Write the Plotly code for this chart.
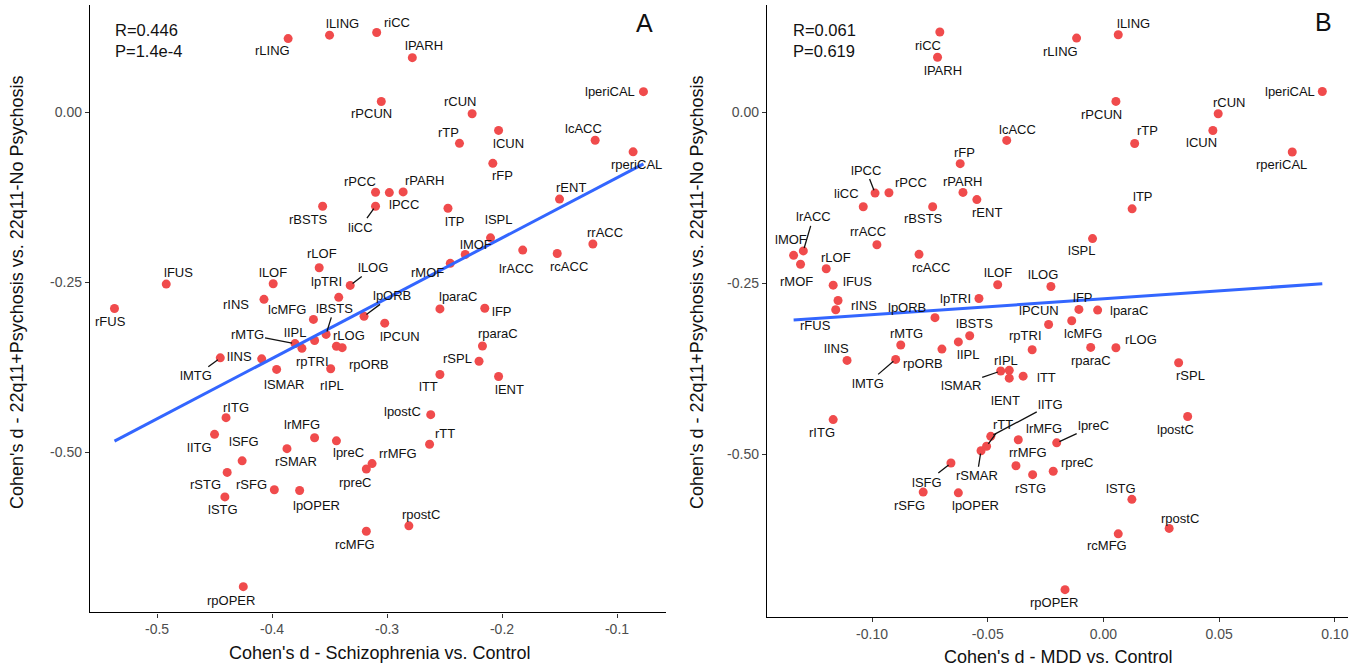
import numpy as np
import plotly.graph_objects as go

# ---------------- data ----------------
regions = ["rLING","lLING","riCC","lPARH","rPCUN","rCUN","rTP","lCUN","rFP","lperiCAL",
           "lcACC","rperiCAL","rENT","rPCC","lPCC","rPARH","rBSTS","liCC","lTP","lSPL",
           "lMOF","rMOF","lrACC","rcACC","rrACC","lFUS","rFUS","lLOF","rLOF","lLOG",
           "lpTRI","rINS","lcMFG","lBSTS","lpORB","rMTG","lIPL","rpTRI","rLOG","rpORB",
           "lPCUN","lparaC","lFP","rparaC","rSPL","lTT","lENT","lINS","lMTG","lSMAR",
           "rIPL","rITG","lITG","lSFG","rSTG","lSTG","rSFG","lpOPER","rSMAR","lrMFG",
           "lpreC","rrMFG","rpreC","rcMFG","rpOPER","lpostC","rTT","rpostC"]

x_scz = [-0.386,-0.350,-0.309,-0.278,-0.305,-0.226,-0.237,-0.203,-0.208,-0.077,
         -0.119,-0.086,-0.150,-0.310,-0.298,-0.286,-0.356,-0.310,-0.247,-0.210,
         -0.232,-0.245,-0.182,-0.152,-0.121,-0.492,-0.537,-0.399,-0.359,-0.332,
         -0.342,-0.407,-0.364,-0.353,-0.320,-0.380,-0.363,-0.374,-0.344,-0.339,
         -0.302,-0.254,-0.215,-0.217,-0.220,-0.254,-0.203,-0.409,-0.445,-0.396,
         -0.349,-0.440,-0.450,-0.426,-0.439,-0.441,-0.398,-0.376,-0.387,-0.363,
         -0.344,-0.313,-0.318,-0.318,-0.425,-0.262,-0.263,-0.281]

x_mdd = [-0.0116,0.0064,-0.0707,-0.0717,0.0054,0.0496,0.0135,0.0473,-0.0619,0.0946,
         -0.0418,0.0816,-0.0547,-0.0927,-0.0987,-0.0607,-0.0738,-0.1038,0.0124,-0.0047,
         -0.1339,-0.1309,-0.1297,-0.0797,-0.0979,-0.1168,-0.1157,-0.0457,-0.1198,-0.0227,
         -0.0538,-0.1147,-0.0137,-0.0578,-0.0728,-0.0876,-0.0627,-0.0308,0.0054,-0.0698,
         -0.0237,-0.0025,-0.0106,-0.0055,0.0325,-0.0347,-0.0407,-0.1108,-0.0898,-0.0444,
         -0.0407,-0.1168,-0.0487,-0.0659,-0.0306,0.0123,-0.0779,-0.0627,-0.0529,-0.0368,
         -0.0202,-0.0378,-0.0217,0.0064,-0.0166,0.0364,-0.0505,0.0284]

y_psy = [0.108,0.113,0.117,0.080,0.0155,-0.0025,-0.046,-0.027,-0.0755,0.030,
         -0.0415,-0.0585,-0.128,-0.118,-0.1185,-0.1175,-0.1385,-0.1385,-0.1415,-0.185,
         -0.2095,-0.2225,-0.203,-0.208,-0.194,-0.253,-0.289,-0.2525,-0.229,-0.255,
         -0.2725,-0.2755,-0.305,-0.327,-0.3005,-0.3405,-0.336,-0.3475,-0.3445,-0.3465,
         -0.3105,-0.2895,-0.2885,-0.344,-0.3665,-0.386,-0.389,-0.363,-0.3615,-0.3785,
         -0.3775,-0.4495,-0.474,-0.513,-0.530,-0.566,-0.5555,-0.5565,-0.495,-0.479,
         -0.4835,-0.517,-0.525,-0.6165,-0.698,-0.445,-0.4885,-0.6085]

stats_A = ["R=0.446", "P=1.4e-4"]
stats_B = ["R=0.061", "P=0.619"]

xticks_A = [-0.5, -0.4, -0.3, -0.2, -0.1]
xtick_text_A = ["-0.5", "-0.4", "-0.3", "-0.2", "-0.1"]
xticks_B = [-0.10, -0.05, 0.00, 0.05, 0.10]
xtick_text_B = ["-0.10", "-0.05", "0.00", "0.05", "0.10"]
yticks = [0.00, -0.25, -0.50]
ytick_text = ["0.00", "-0.25", "-0.50"]

# ---------------- label layout (pixel offsets, repel-like) ----------------
offA = {"rLING":(-16,12),"lLING":(13,-12),"riCC":(20,-10),"lPARH":(12,-12),"rPCUN":(-10,12),
        "rCUN":(-12,-12),"rTP":(-11,-11),"lCUN":(10,13),"rFP":(10,12),"lperiCAL":(-33,0),
        "lcACC":(-12,-12),"rperiCAL":(3,13),"rENT":(11,-12),"rPCC":(-16,-11),"lPCC":(15,12),
        "rPARH":(21,-11),"rBSTS":(-14,13),"liCC":(-15,21),"lTP":(7,13),"lSPL":(8,-18),
        "lMOF":(11,-10),"rMOF":(-23,9),"lrACC":(-6,18),"rcACC":(12,13),"rrACC":(12,-11),
        "lFUS":(12,-12),"rFUS":(-4,13),"lLOF":(0,-11),"rLOF":(3,-14),"lLOG":(23,-18),
        "lpTRI":(-12,-16),"rINS":(-28,5),"lcMFG":(-26,-10),"lBSTS":(8,-26),"lpORB":(28,-21),
        "rMTG":(-48,-9),"lIPL":(-20,-8),"rpTRI":(11,13),"rLOG":(13,-11),"rpORB":(27,17),
        "lPCUN":(15,13),"lparaC":(18,-12),"lFP":(17,3),"rparaC":(16,-12),"rSPL":(-22,-3),
        "lTT":(-11,12),"lENT":(11,13),"lINS":(-22,-2),"lMTG":(-24,18),"lSMAR":(7,15),
        "rIPL":(1,17),"rITG":(10,-10),"lITG":(-15,13),"lSFG":(2,-19),"rSTG":(-22,12),
        "lSTG":(-2,13),"rSFG":(-23,-5),"lpOPER":(17,15),"rSMAR":(9,13),"lrMFG":(-13,-13),
        "lpreC":(12,12),"rrMFG":(26,-10),"rpreC":(-11,13),"rcMFG":(-11,13),"rpOPER":(-12,14),
        "lpostC":(-28,-3),"rTT":(15,-11),"rpostC":(12,-11)}
leadA = {"liCC","lLOG","lBSTS","lpORB","rMTG","lMTG"}

offB = {"rLING":(-16,13),"lLING":(15,-11),"riCC":(-12,14),"lPARH":(5,13),"rPCUN":(-14,13),
        "rCUN":(11,-11),"rTP":(13,-13),"lCUN":(-11,12),"rFP":(4,-11),"lperiCAL":(-32,0),
        "lcACC":(11,-11),"rperiCAL":(-11,12),"rENT":(10,13),"rPCC":(22,-10),"lPCC":(-9,-23),
        "rPARH":(0,-11),"rBSTS":(-9,12),"liCC":(-17,-13),"lTP":(11,-12),"lSPL":(-11,12),
        "lMOF":(-3,-16),"rMOF":(-4,17),"lrACC":(10,-34),"rcACC":(12,13),"rrACC":(-9,-13),
        "lFUS":(24,-4),"rFUS":(-20,16),"lLOF":(0,-12),"rLOF":(10,-11),"lLOG":(-8,-12),
        "lpTRI":(-23,0),"rINS":(26,5),"lcMFG":(11,13),"lBSTS":(5,-12),"lpORB":(-28,-10),
        "rMTG":(6,-12),"lIPL":(10,13),"rpTRI":(-7,-14),"rLOG":(25,-8),"rpORB":(-19,14),
        "lPCUN":(-10,-14),"lparaC":(31,0),"lFP":(4,-12),"rparaC":(0,13),"rSPL":(12,13),
        "lTT":(23,1),"lENT":(-4,22),"lINS":(-11,-12),"lMTG":(-28,24),"lSMAR":(-40,14),
        "rIPL":(-3,-10),"rITG":(-11,13),"lITG":(60,-32),"lSFG":(-24,19),"rSTG":(-2,14),
        "lSTG":(-11,-11),"rSFG":(-14,13),"lpOPER":(17,13),"rSMAR":(-4,25),"lrMFG":(26,-11),
        "lpreC":(37,-17),"rrMFG":(12,-13),"rpreC":(24,-9),"rcMFG":(-11,12),"rpOPER":(-11,13),
        "lpostC":(-12,13),"rTT":(16,-22),"rpostC":(11,-10)}
leadB = {"lPCC","lrACC","lMTG","lSMAR","lITG","lSFG","rSMAR","lpreC","rTT"}

FONT = "Liberation Sans, Arial, sans-serif"
DOT = "#F04B4C"
LINE = "#3366FF"

# plot area in pixels: left 90, right 1348, top 5, bottom 617
L, R, T, B = 90, 1348, 5, 617
W, H = R - L, B - T
def px_x(px): return (px - L) / W
def px_y(py): return (B - py) / H

fig = go.Figure()

def add_panel(xs, xa, ya):
    fig.add_trace(go.Scatter(x=xs, y=y_psy, mode="markers", xaxis=xa, yaxis=ya,
                             marker=dict(color=DOT, size=9, line=dict(width=0)),
                             hoverinfo="text", text=regions, showlegend=False))
    k, b = np.polyfit(xs, y_psy, 1)
    xl = np.array([min(xs), max(xs)])
    fig.add_trace(go.Scatter(x=xl, y=k * xl + b, mode="lines", xaxis=xa, yaxis=ya,
                             line=dict(color=LINE, width=3), hoverinfo="skip",
                             showlegend=False))

add_panel(x_scz, "x", "y")
add_panel(x_mdd, "x2", "y2")

annotations = []
def add_labels(xs, offs, leads, xr, yr):
    for name, xv, yv in zip(regions, xs, y_psy):
        dx, dy = offs[name]
        common = dict(x=xv, y=yv, xref=xr, yref=yr, text=name,
                      font=dict(family=FONT, size=13, color="#111111"))
        if name in leads:
            annotations.append(dict(**common, showarrow=True, ax=dx, ay=dy,
                                    arrowhead=0, arrowwidth=1.3, arrowcolor="#111111",
                                    standoff=3))
        else:
            annotations.append(dict(**common, showarrow=False, xshift=dx, yshift=-dy))

add_labels(x_scz, offA, leadA, "x", "y")
add_labels(x_mdd, offB, leadB, "x2", "y2")

def paper_text(txt, px, py, size, xanchor="left", angle=0, color="#111111", align="left"):
    annotations.append(dict(text=txt, x=px_x(px), y=px_y(py), xref="paper", yref="paper",
                            showarrow=False, xanchor=xanchor, yanchor="middle", align=align,
                            textangle=angle, font=dict(family=FONT, size=size, color=color)))

paper_text("<br>".join(stats_A), 113, 40.5, 16.5)
paper_text("<br>".join(stats_B), 791, 40.5, 16.5)
paper_text("A", 644, 23, 25, xanchor="center")
paper_text("B", 1323, 22, 25, xanchor="center")
paper_text("Cohen's d - Schizophrenia vs. Control", 380, 653, 18, xanchor="center")
paper_text("Cohen's d - MDD vs. Control", 1058, 657, 18, xanchor="center")
paper_text("Cohen's d - 22q11+Psychosis vs. 22q11-No Psychosis", 17, 292, 18,
           xanchor="center", angle=-90)
paper_text("Cohen's d - 22q11+Psychosis vs. 22q11-No Psychosis", 697, 292, 18,
           xanchor="center", angle=-90)

axis_common = dict(showline=True, linecolor="black", linewidth=1.4, showgrid=False,
                   zeroline=False, ticks="outside", ticklen=4, tickwidth=1.2,
                   tickcolor="#333333", tickfont=dict(family=FONT, size=14, color="#4D4D4D"),
                   mirror=False, fixedrange=True)

fig.update_layout(
    width=1365, height=671,
    margin=dict(l=L, r=1365 - R, t=T, b=671 - B, pad=0),
    paper_bgcolor="white", plot_bgcolor="white",
    annotations=annotations,
    xaxis=dict(**axis_common, domain=[0, px_x(666)], range=[-0.5583, -0.0574],
               tickvals=xticks_A, ticktext=xtick_text_A, anchor="y"),
    yaxis=dict(**axis_common, domain=[px_y(612.3), 1], range=[-0.7357, 0.1574],
               tickvals=yticks, ticktext=ytick_text, anchor="x"),
    xaxis2=dict(**axis_common, domain=[px_x(767), 1], range=[-0.1454, 0.1057],
                tickvals=xticks_B, ticktext=xtick_text_B, anchor="y2"),
    yaxis2=dict(**axis_common, domain=[0, 1], range=[-0.738, 0.1564],
                tickvals=yticks, ticktext=ytick_text, anchor="x2"),
    showlegend=False,
)

fig.write_html("out.html", config={"displayModeBar": False},
               post_script="document.body.style.margin='0px';document.body.style.overflow='hidden';")
